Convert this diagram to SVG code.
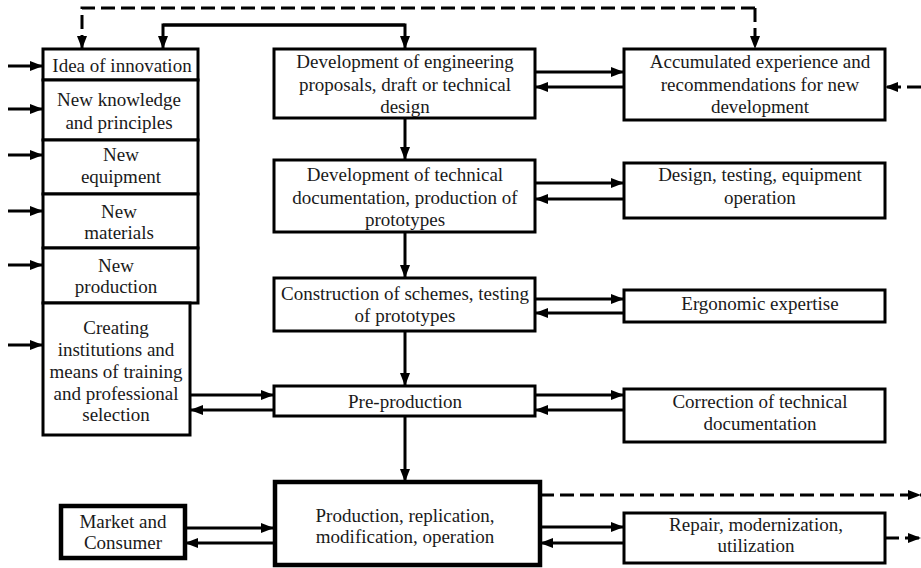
<svg xmlns="http://www.w3.org/2000/svg" width="921" height="568" viewBox="0 0 921 568">
<style>
.box{fill:#fff;stroke:#000;stroke-width:3}
.thick{stroke-width:4.5}
.t{font-size:19px;fill:#1a1a1a;text-anchor:middle}
.ln{fill:none;stroke:#000;stroke-width:3}
.ar{marker-end:url(#ah)}
.d{stroke-dasharray:14 6}
</style>
<defs>
<marker id="ah" markerUnits="userSpaceOnUse" markerWidth="13" markerHeight="10" refX="13" refY="5" orient="auto">
<path d="M0,0 L13,5 L0,10 z" fill="#000"/>
</marker>
</defs>
<rect width="921" height="568" fill="#fff"/>

<g id="connectors">
<path class="ln d ar" d="M755,8 L82,8 L82,49"/>
<path class="ln d ar" d="M755,8 L755,49"/>
<path class="ln ar" d="M405,25 L163,25 L163,49"/>
<path class="ln ar" d="M163,25 L405,25 L405,49"/>
<path class="ln ar" d="M8,66 L43,66"/>
<path class="ln ar" d="M8,109 L43,109"/>
<path class="ln ar" d="M8,155 L43,155"/>
<path class="ln ar" d="M8,211 L43,211"/>
<path class="ln ar" d="M8,265 L43,265"/>
<path class="ln ar" d="M8,345 L43,345"/>
<path class="ln ar" d="M405,118 L405,160"/>
<path class="ln ar" d="M405,232 L405,278"/>
<path class="ln ar" d="M405,331 L405,386"/>
<path class="ln ar" d="M405,416 L405,482"/>
<path class="ln ar" d="M535,72 L624,72"/>
<path class="ln ar" d="M624,87 L535,87"/>
<path class="ln ar" d="M535,183 L624,183"/>
<path class="ln ar" d="M624,199 L535,199"/>
<path class="ln ar" d="M535,299 L624,299"/>
<path class="ln ar" d="M624,313 L535,313"/>
<path class="ln ar" d="M535,395 L624,395"/>
<path class="ln ar" d="M624,410 L535,410"/>
<path class="ln ar" d="M540,527 L624,527"/>
<path class="ln ar" d="M624,543 L540,543"/>
<path class="ln ar" d="M190,395 L274,395"/>
<path class="ln ar" d="M274,410 L190,410"/>
<path class="ln ar" d="M185,528 L274,528"/>
<path class="ln ar" d="M274,543 L185,543"/>
<path class="ln d ar" d="M540,495 L921,495"/>
<path class="ln d ar" d="M885,538 L921,538"/>
<path class="ln d ar" d="M921,87 L885,87"/>
</g>

<g id="n-idea"><rect class="box" x="43" y="49" width="155" height="31"/><text class="t" font-family="'Liberation Serif'" x="122" y="72">Idea of innovation</text></g>
<g id="n-knowledge"><rect class="box" x="43" y="80" width="155" height="60"/><text class="t" font-family="'Liberation Serif'" x="119" y="106">New knowledge</text><text class="t" font-family="'Liberation Serif'" x="119" y="129">and principles</text></g>
<g id="n-equipment"><rect class="box" x="43" y="140" width="155" height="54"/><text class="t" font-family="'Liberation Serif'" x="121" y="161">New</text><text class="t" font-family="'Liberation Serif'" x="121" y="183">equipment</text></g>
<g id="n-materials"><rect class="box" x="43" y="194" width="155" height="54"/><text class="t" font-family="'Liberation Serif'" x="119" y="218">New</text><text class="t" font-family="'Liberation Serif'" x="119" y="239">materials</text></g>
<g id="n-production-new"><rect class="box" x="43" y="248" width="155" height="55"/><text class="t" font-family="'Liberation Serif'" x="116" y="272">New</text><text class="t" font-family="'Liberation Serif'" x="116" y="293">production</text></g>
<g id="n-creating"><rect class="box" x="43" y="303" width="147" height="132"/><text class="t" font-family="'Liberation Serif'" x="116" y="334">Creating</text><text class="t" font-family="'Liberation Serif'" x="116" y="356">institutions and</text><text class="t" font-family="'Liberation Serif'" x="116" y="378">means of training</text><text class="t" font-family="'Liberation Serif'" x="116" y="400">and professional</text><text class="t" font-family="'Liberation Serif'" x="116" y="421">selection</text></g>

<g id="n-dev1"><rect class="box" x="274" y="49" width="261" height="69"/><text class="t" font-family="'Liberation Serif'" x="405" y="68">Development of engineering</text><text class="t" font-family="'Liberation Serif'" x="405" y="91">proposals, draft or technical</text><text class="t" font-family="'Liberation Serif'" x="405" y="113">design</text></g>
<g id="n-dev2"><rect class="box" x="274" y="160" width="261" height="72"/><text class="t" font-family="'Liberation Serif'" x="405" y="181">Development of technical</text><text class="t" font-family="'Liberation Serif'" x="405" y="204">documentation, production of</text><text class="t" font-family="'Liberation Serif'" x="405" y="226">prototypes</text></g>
<g id="n-construction"><rect class="box" x="274" y="278" width="261" height="53"/><text class="t" font-family="'Liberation Serif'" x="405" y="300">Construction of schemes, testing</text><text class="t" font-family="'Liberation Serif'" x="405" y="322">of prototypes</text></g>
<g id="n-preproduction"><rect class="box" x="274" y="386" width="261" height="30"/><text class="t" font-family="'Liberation Serif'" x="405" y="408">Pre-production</text></g>
<g id="n-production"><rect class="box thick" x="275" y="482" width="265" height="83"/><text class="t" font-family="'Liberation Serif'" x="405" y="522">Production, replication,</text><text class="t" font-family="'Liberation Serif'" x="405" y="543">modification, operation</text></g>

<g id="n-accumulated"><rect class="box" x="624" y="49" width="261" height="71"/><text class="t" font-family="'Liberation Serif'" x="760" y="68">Accumulated experience and</text><text class="t" font-family="'Liberation Serif'" x="760" y="91">recommendations for new</text><text class="t" font-family="'Liberation Serif'" x="760" y="113">development</text></g>
<g id="n-design"><rect class="box" x="624" y="163" width="261" height="55"/><text class="t" font-family="'Liberation Serif'" x="760" y="181">Design, testing, equipment</text><text class="t" font-family="'Liberation Serif'" x="760" y="204">operation</text></g>
<g id="n-ergonomic"><rect class="box" x="624" y="290" width="261" height="32"/><text class="t" font-family="'Liberation Serif'" x="760" y="310">Ergonomic expertise</text></g>
<g id="n-correction"><rect class="box" x="624" y="389" width="261" height="53"/><text class="t" font-family="'Liberation Serif'" x="760" y="408">Correction of technical</text><text class="t" font-family="'Liberation Serif'" x="760" y="430">documentation</text></g>
<g id="n-repair"><rect class="box" x="624" y="513" width="261" height="50"/><text class="t" font-family="'Liberation Serif'" x="756" y="531">Repair, modernization,</text><text class="t" font-family="'Liberation Serif'" x="756" y="552">utilization</text></g>
<g id="n-market"><rect class="box thick" x="61" y="506" width="124" height="52"/><text class="t" font-family="'Liberation Serif'" x="123" y="528">Market and</text><text class="t" font-family="'Liberation Serif'" x="123" y="549">Consumer</text></g>
</svg>
